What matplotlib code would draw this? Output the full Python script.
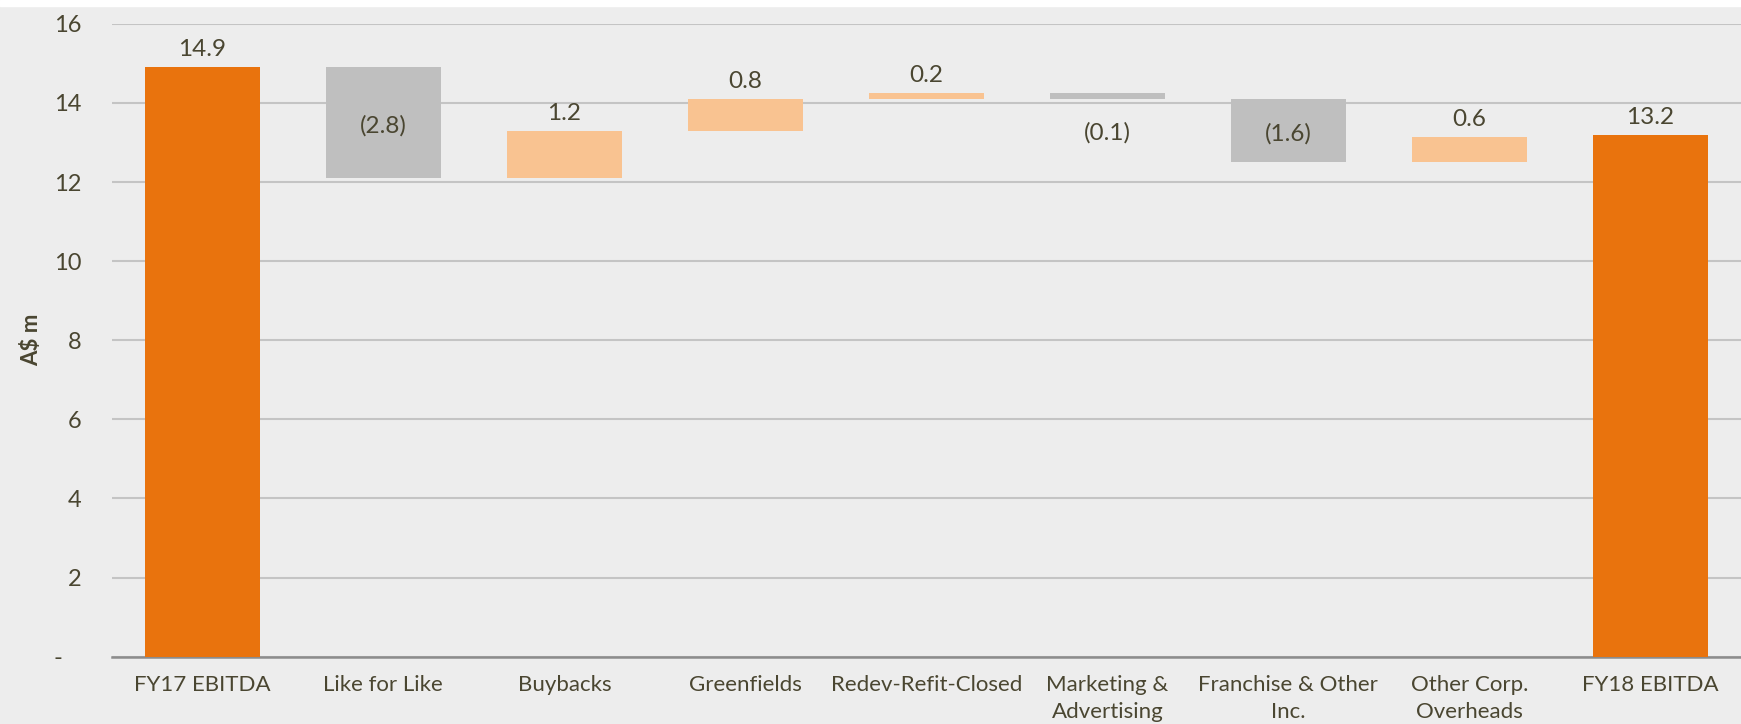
import matplotlib.pyplot as plt
import numpy as np

# waterfall steps (A$ m)
categories = ["FY17 EBITDA", "Like for Like", "Buybacks", "Greenfields",
              "Redev-Refit-Closed", "Marketing &\nAdvertising",
              "Franchise & Other\nInc.", "Other Corp.\nOverheads", "FY18 EBITDA"]
changes = [14.9, -2.8, 1.2, 0.8, 0.15, -0.15, -1.6, 0.65, 13.2]
kinds = ["total", "step", "step", "step", "step", "step", "step", "step", "total"]
value_labels = ["14.9", "(2.8)", "1.2", "0.8", "0.2", "(0.1)", "(1.6)", "0.6", "13.2"]
yticks = [0, 2, 4, 6, 8, 10, 12, 14, 16]
ytick_labels = ["-   ", "2", "4", "6", "8", "10", "12", "14", "16"]

ORANGE = "#E9730D"
GREY = "#BFBFBF"
PEACH = "#F9C391"
TEXT = "#4A4631"
BG = "#EDEDED"
FS = 16
VFS = 17.5

plt.rcParams['font.family'] = ['Lato', 'DejaVu Sans']

fig = plt.figure(figsize=(17.41, 7.24), dpi=100, facecolor=BG)
ax = fig.add_axes([0.0642, 0.093, 0.9358, 0.874])
ax.set_facecolor(BG)
# thin white strip along the top edge
fig.patches.append(plt.Rectangle((0, 0.992), 1, 0.008, transform=fig.transFigure,
                                 color="white", zorder=0))

x = np.arange(len(categories))
running = 0.0
for i, (c, k) in enumerate(zip(changes, kinds)):
    if k == "total":
        bottom, height, color = 0, c, ORANGE
        running = c
    else:
        if c >= 0:
            bottom, height, color = running, c, PEACH
        else:
            bottom, height, color = running + c, -c, GREY
        running += c
    ax.bar(x[i], height, bottom=bottom, width=0.635, color=color, zorder=3)
    top = bottom + height
    lab = value_labels[i]
    if k == "total" or c >= 0:
        ax.annotate(lab, (x[i], top), xytext=(0, 5), textcoords="offset points",
                    ha="center", va="bottom", fontsize=VFS, color=TEXT)
    elif height > 0.5:
        ax.annotate(lab, (x[i], bottom + height / 2), xytext=(0, -2),
                    textcoords="offset points", ha="center", va="center",
                    fontsize=VFS, color=TEXT, zorder=4)
    else:
        ax.annotate(lab, (x[i], bottom), xytext=(0, -24), textcoords="offset points",
                    ha="center", va="center", fontsize=VFS, color=TEXT)

ax.set_xlim(-0.5, len(categories) - 0.5)
ax.set_ylim(0, 16)
ax.set_yticks(yticks)
ax.set_yticklabels(ytick_labels)
ax.set_xticks(x)
ax.set_xticklabels(categories, linespacing=1.45)
ax.tick_params(axis="both", length=0, labelsize=FS, labelcolor=TEXT)
ax.tick_params(axis="y", labelsize=17, pad=22)
ax.tick_params(axis="x", pad=13)
ax.yaxis.grid(True, color="#C4C4C4", linewidth=1.5, zorder=0)
ax.set_axisbelow(True)
for s in ["top", "right", "left"]:
    ax.spines[s].set_visible(False)
ax.spines["bottom"].set_color("#8C8C8C")
ax.spines["bottom"].set_linewidth(1.8)
ax.set_ylabel("A$ m", fontsize=16, fontweight="bold", color=TEXT, labelpad=8)

fig.savefig("out.png", dpi=100, facecolor=BG)
